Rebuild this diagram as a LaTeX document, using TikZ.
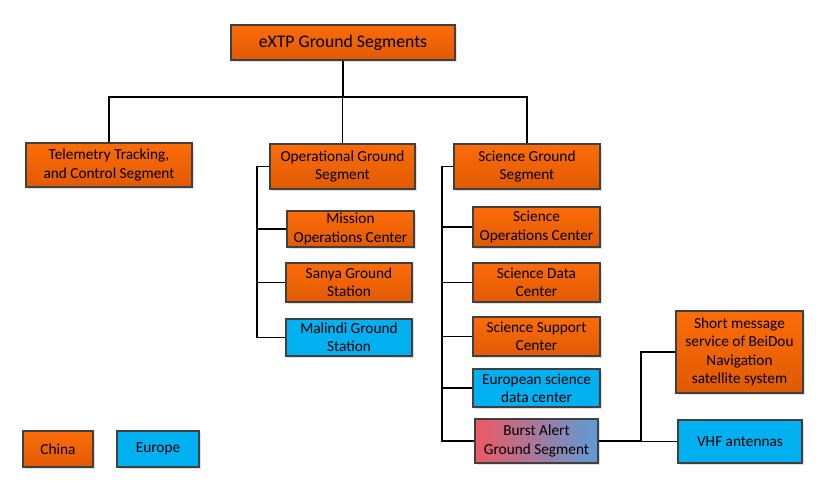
\documentclass[tikz,border=0pt]{standalone}
\usepackage{fontspec}
\setmainfont{Carlito}
\usetikzlibrary{shadows}
\definecolor{orTop}{RGB}{252,108,8}
\definecolor{orBot}{RGB}{224,90,4}
\definecolor{euBlue}{RGB}{0,176,240}
\definecolor{bdr}{RGB}{64,64,64}
\definecolor{gradL}{RGB}{238,88,100}
\definecolor{gradR}{RGB}{92,156,214}
\tikzset{
  box/.style={draw=bdr, line width=1.6pt, align=center, inner sep=1pt,
    font=\fontsize{15.3}{18.3}\selectfont,
    drop shadow={shadow xshift=1.8pt, shadow yshift=-1.8pt, opacity=0.25, fill=black!50}},
  cn/.style={box, top color=orTop, bottom color=orBot},
  eu/.style={box, fill=euBlue},
  mix/.style={box, left color=gradL, right color=gradR},
  wire/.style={line width=1.6pt, black},
}
\begin{document}
\begin{tikzpicture}[x=1pt,y=-1pt]
\useasboundingbox (0,0) rectangle (830,491);
% top
\node[cn, minimum width=224pt, minimum height=35pt, font=\fontsize{17.7}{20}\selectfont] (top) at (343,42.5) {eXTP Ground Segments};
% level 1
\node[cn, minimum width=166pt, minimum height=44pt] (ttc) at (109,165) {Telemetry Tracking,\\and Control Segment};
\node[cn, minimum width=145pt, minimum height=45pt] (op) at (342.5,166.5) {Operational Ground\\Segment};
\node[cn, minimum width=146pt, minimum height=45pt] (sci) at (527,166.5) {Science Ground\\Segment};
% operational children
\node[cn, minimum width=127pt, minimum height=36pt] (moc) at (350.5,229) {Mission\\Operations Center};
\node[cn, minimum width=126pt, minimum height=39pt] (sanya) at (349,282.5) {Sanya Ground\\Station};
\node[eu, minimum width=126pt, minimum height=37pt] (mal) at (349,337.5) {Malindi Ground\\Station};
% science children
\node[cn, minimum width=127pt, minimum height=40pt] (soc) at (536.5,227) {Science\\Operations Center};
\node[cn, minimum width=127pt, minimum height=39pt] (sdc) at (536.5,282.5) {Science Data\\Center};
\node[cn, minimum width=127pt, minimum height=39pt] (ssc) at (536.5,336.5) {Science Support\\Center};
\node[eu, minimum width=127pt, minimum height=38pt] (esdc) at (536.5,388) {European science\\data center};
\node[mix, minimum width=123pt, minimum height=44pt] (bags) at (536.5,441) {Burst Alert\\Ground Segment};
% burst alert children
\node[cn, minimum width=127pt, minimum height=82pt] (sms) at (739.5,352) {Short message\\service of BeiDou\\Navigation\\satellite system};
\node[eu, minimum width=124pt, minimum height=43pt] (vhf) at (740,441.5) {VHF antennas};
% legend
\node[cn, minimum width=70pt, minimum height=36pt] (china) at (58,449) {China};
\node[eu, minimum width=82pt, minimum height=36pt] (europe) at (158,449) {Europe};
% connectors
\coordinate (bus) at (0,97);
\coordinate (ob) at (257,0);
\coordinate (sb) at (442,0);
\coordinate (rb) at (641,0);
\draw[wire] (top.south) -- (top.south |- bus);
\draw[wire] (ttc.north) |- (sci.north |- bus) -- (sci.north);
\draw[wire] (op.north) -- (op.north |- bus);
\draw[wire] (op.west) -| (ob |- mal.west) -- (mal.west);
\draw[wire] (moc.west) -- (ob |- moc.west);
\draw[wire] (sanya.west) -- (ob |- sanya.west);
\draw[wire] (sci.west) -| (sb |- bags.west) -- (bags.west);
\draw[wire] (soc.west) -- (sb |- soc.west);
\draw[wire] (sdc.west) -- (sb |- sdc.west);
\draw[wire] (ssc.west) -- (sb |- ssc.west);
\draw[wire] (esdc.west) -- (sb |- esdc.west);
\draw[wire] (bags.east) -| (rb |- sms.west) -- (sms.west);
\draw[wire] (vhf.west) -- (rb |- vhf.west);
\end{tikzpicture}
\end{document}
